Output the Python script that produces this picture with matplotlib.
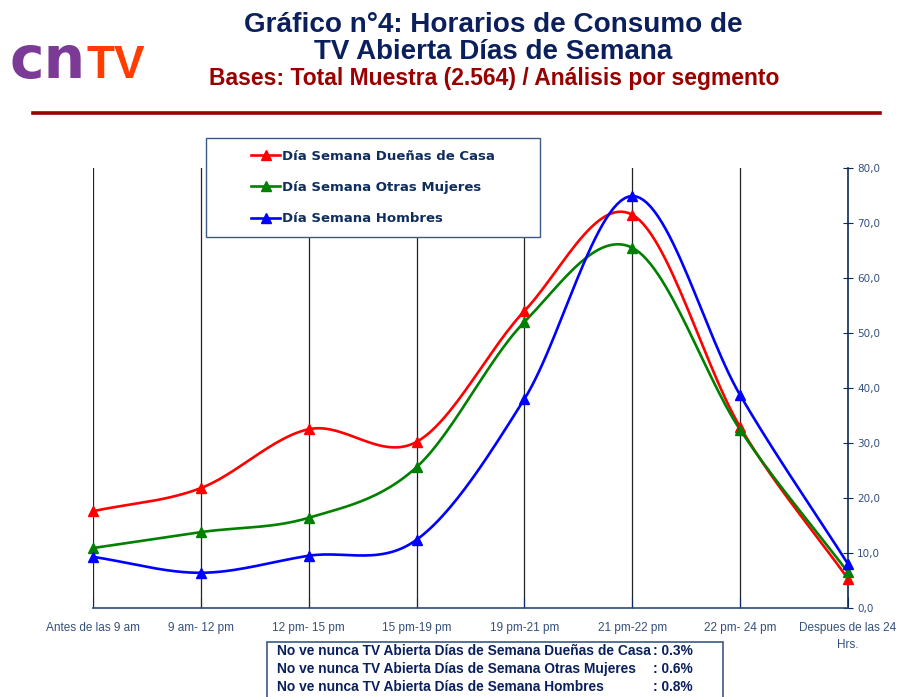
import numpy as np
import matplotlib.pyplot as plt
from matplotlib.patches import Rectangle
from matplotlib.lines import Line2D

franjas = ['Antes de las 9 am', '9 am- 12 pm', '12 pm- 15 pm', '15 pm-19 pm',
           '19 pm-21 pm', '21 pm-22 pm', '22 pm- 24 pm', 'Despues de las 24\nHrs.']
duenas = [17.6, 21.8, 32.5, 30.2, 54.0, 71.5, 32.9, 5.3]
otras = [10.9, 13.8, 16.4, 25.6, 52.0, 65.5, 32.4, 6.5]
hombres = [9.3, 6.4, 9.5, 12.4, 38.0, 74.9, 38.7, 8.0]
series_names = ['Día Semana Dueñas de Casa', 'Día Semana Otras Mujeres', 'Día Semana Hombres']
series_colors = ['#FF0000', '#008000', '#0000FF']
labels_nunca = ['No ve nunca TV Abierta Días de Semana Dueñas de Casa',
                'No ve nunca TV Abierta Días de Semana Otras Mujeres',
                'No ve nunca TV Abierta Días de Semana Hombres']
nunca = ['0.3%', '0.6%', '0.8%']

NAVY = '#0A1F5C'
DARKRED = '#990000'
TICKCOL = '#34507A'
ARIAL = 'Liberation Sans'


def smooth(xs, ys, n=30, t=0.5):
    # curva tipo Catmull-Rom entre los puntos (como la linea suavizada de Excel)
    xs = np.asarray(xs, float)
    ys = np.asarray(ys, float)
    px = np.concatenate([[2 * xs[0] - xs[1]], xs, [2 * xs[-1] - xs[-2]]])
    py = np.concatenate([[2 * ys[0] - ys[1]], ys, [2 * ys[-1] - ys[-2]]])
    ox, oy = [], []
    s = np.linspace(0, 1, n)
    for i in range(1, len(px) - 2):
        p0, p1, p2, p3 = [np.array([px[j], py[j]]) for j in range(i - 1, i + 3)]
        m1 = t * (p2 - p0)
        m2 = t * (p3 - p1)
        h00 = 2 * s**3 - 3 * s**2 + 1
        h10 = s**3 - 2 * s**2 + s
        h01 = -2 * s**3 + 3 * s**2
        h11 = s**3 - s**2
        pts = (np.outer(h00, p1) + np.outer(h10, m1) + np.outer(h01, p2) + np.outer(h11, m2))
        ox.extend(pts[:, 0])
        oy.extend(pts[:, 1])
    return np.array(ox), np.array(oy)


fig = plt.figure(figsize=(9, 6.97), dpi=100)
renderer = fig.canvas.get_renderer()


def fit(txt, width_px):
    w = txt.get_window_extent(renderer).width
    txt.set_fontsize(txt.get_fontsize() * width_px / w)
    return txt.get_fontsize()


# cabecera
t = fig.text(0.548, 0.964, 'Gráfico n°4: Horarios de Consumo de', ha='center', va='center',
             fontsize=18, fontweight='bold', color=NAVY, family=ARIAL)
fit(t, 498)
t = fig.text(0.548, 0.926, 'TV Abierta Días de Semana', ha='center', va='center',
             fontsize=18, fontweight='bold', color=NAVY, family=ARIAL)
fit(t, 358)
t = fig.text(0.549, 0.887, 'Bases: Total Muestra (2.564) / Análisis por segmento', ha='center', va='center',
             fontsize=14, fontweight='bold', color=DARKRED, family=ARIAL)
fit(t, 572)

# logo
t1 = fig.text(0.010, 0.888, 'cn', ha='left', va='baseline', fontsize=42, fontweight='bold',
              color='#7B3A96', family='DejaVu Sans')
bb = t1.get_window_extent(renderer).transformed(fig.transFigure.inverted())
fig.text(bb.x1 + 0.001, 0.888, 'TV', ha='left', va='baseline', fontsize=33,
         fontweight='bold', color='#FF3D00', family=ARIAL)
fig.add_artist(Line2D([0.037, 0.978], [0.838, 0.838], color=DARKRED, lw=2.6))

ax = fig.add_axes([0.1033, 0.1277, 0.8389, 0.6313])
x = np.arange(len(franjas))
for vals, c in zip([duenas, otras, hombres], series_colors):
    sx, sy = smooth(x, vals)
    ax.plot(sx, sy, color=c, lw=1.9, solid_capstyle='round')
    ax.plot(x, vals, ls='none', marker='^', ms=7.5, color=c, clip_on=False, zorder=4)

for xi in x[:-1]:
    ax.axvline(xi, color='#222222', lw=0.9, zorder=0)

ax.set_xlim(0, len(franjas) - 1)
ax.set_ylim(0, 80)
ax.set_xticks(x)
ax.set_xticklabels(franjas, fontsize=8.5, color=TICKCOL, family=ARIAL, linespacing=1.6)
ax.set_yticks(np.arange(0, 81, 10))
ax.set_yticklabels([f'{v:.1f}'.replace('.', ',') for v in np.arange(0, 81, 10)])
ax.yaxis.tick_right()
ax.tick_params(axis='y', direction='inout', length=7, colors='#0A2A5A', labelcolor=TICKCOL,
               labelsize=7.5, pad=3)
ax.tick_params(axis='x', direction='in', length=8, colors='#0A2A5A', labelcolor=TICKCOL, pad=10)
for sp in ['top', 'left']:
    ax.spines[sp].set_visible(False)
ax.spines['bottom'].set_color('#2B4A78')
ax.spines['right'].set_color('#0A2A5A')
ax.spines['bottom'].set_linewidth(1.2)
ax.spines['right'].set_linewidth(1.2)

# leyenda con recuadro blanco
fig.add_artist(Rectangle((0.2289, 0.660), 0.3711, 0.142, transform=fig.transFigure,
                         facecolor='white', edgecolor='#3B5A85', lw=1.0, zorder=2))
handles = [Line2D([], [], color=c, lw=1.9, marker='^', ms=7) for c in series_colors]
leg = fig.legend(handles, series_names, loc='center', bbox_to_anchor=(0.4144, 0.731),
                 frameon=False, handlelength=2.2, handletextpad=0.15, labelspacing=1.4,
                 prop={'weight': 'bold', 'size': 9.5, 'family': 'DejaVu Sans'})
leg.set_zorder(5)
for tx in leg.get_texts():
    tx.set_color('#0F2E5E')

# recuadro inferior
fig.add_artist(Rectangle((0.297, -0.01), 0.506, 0.089, transform=fig.transFigure,
                         fill=False, edgecolor='#3B5A85', lw=1.2))
t0 = fig.text(0.308, 0.066, labels_nunca[0], ha='left', va='center', fontsize=10,
              fontweight='bold', color=NAVY, family=ARIAL)
fs = fit(t0, 372)
for i, (lab, pct) in enumerate(zip(labels_nunca, nunca)):
    yy = 0.066 - i * 0.026
    if i > 0:
        fig.text(0.308, yy, lab, ha='left', va='center', fontsize=fs, fontweight='bold',
                 color=NAVY, family=ARIAL)
    fig.text(0.7256, yy, ': ' + pct, ha='left', va='center', fontsize=fs, fontweight='bold',
             color=NAVY, family=ARIAL)

fig.savefig('out.png', dpi=100)
